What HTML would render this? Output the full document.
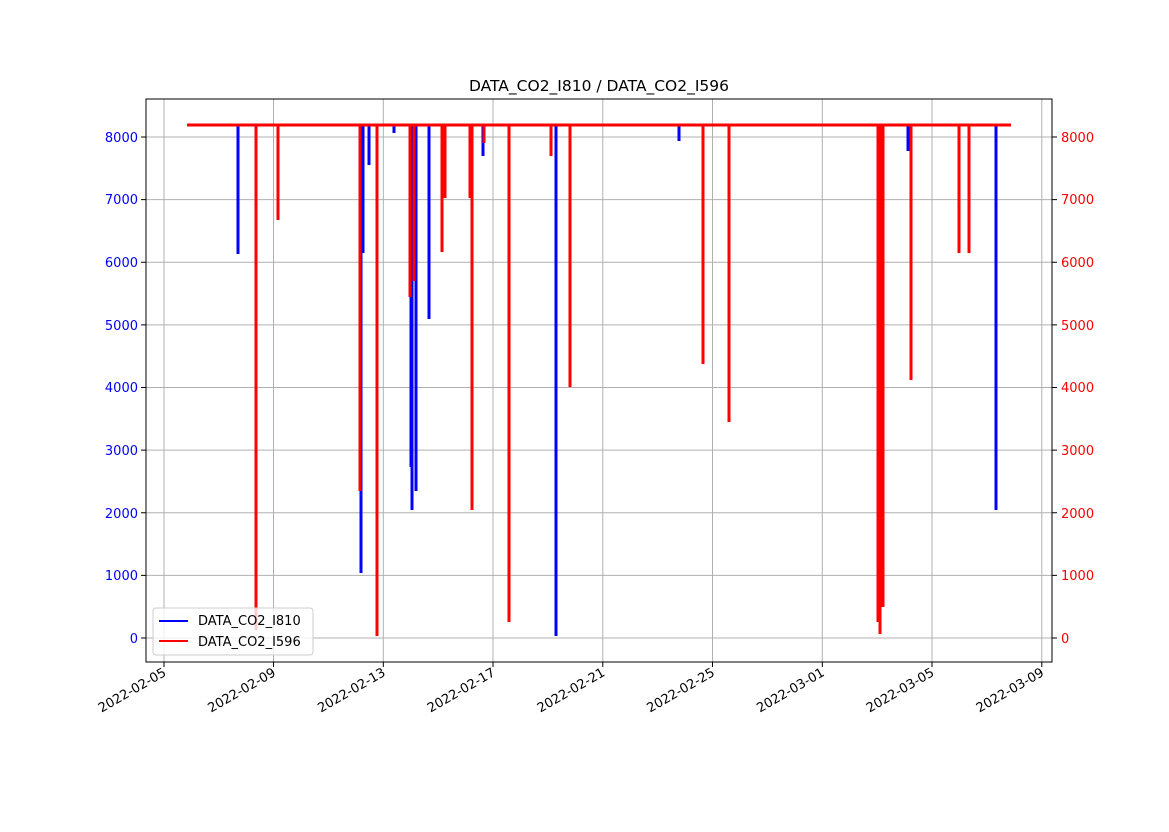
<!DOCTYPE html><html><head><style>body{margin:0;background:#fff}svg text{font-family:"DejaVu Sans","Liberation Sans",sans-serif;font-size:13px}</style></head><body>
<svg width="1169" height="827" xmlns="http://www.w3.org/2000/svg">
<rect width="1169" height="827" fill="#fff"/>
<g stroke="#b0b0b0" stroke-width="1">
<line x1="164" y1="99" x2="164" y2="662"/><line x1="273.5" y1="99" x2="273.5" y2="662"/><line x1="383.3" y1="99" x2="383.3" y2="662"/><line x1="493" y1="99" x2="493" y2="662"/><line x1="602.8" y1="99" x2="602.8" y2="662"/><line x1="712.5" y1="99" x2="712.5" y2="662"/><line x1="822.3" y1="99" x2="822.3" y2="662"/><line x1="932" y1="99" x2="932" y2="662"/><line x1="1041.8" y1="99" x2="1041.8" y2="662"/>
<line x1="146" y1="638" x2="1052" y2="638"/><line x1="146" y1="575.4" x2="1052" y2="575.4"/><line x1="146" y1="512.8" x2="1052" y2="512.8"/><line x1="146" y1="450.1" x2="1052" y2="450.1"/><line x1="146" y1="387.5" x2="1052" y2="387.5"/><line x1="146" y1="324.9" x2="1052" y2="324.9"/><line x1="146" y1="262.3" x2="1052" y2="262.3"/><line x1="146" y1="199.6" x2="1052" y2="199.6"/><line x1="146" y1="137" x2="1052" y2="137"/>
</g>
<g stroke="#00f" stroke-width="3" fill="none">
<line x1="187" y1="125" x2="1011" y2="125"/>
<path d="M238,125V254M361,125V573M363,125V253M369,125V165M394,125V133M411,125V467M412,125V510M416,125V491M429,125V319M483,125V156M556,125V636M679,125V141M908,125V151M996,125V510"/>
</g>
<g stroke="#f00" stroke-width="3" fill="none">
<line x1="187" y1="125" x2="1011" y2="125"/>
<path d="M256,125V630M278,125V220M360,125V491M377,125V636M410,125V297M414,125V281M442,125V252M445,125V198M470,125V198M472,125V510M484,125V143M509,125V622M551,125V156M570,125V387M703,125V364M729,125V422M878,125V622M879,125V541M880,125V634M883,125V607M911,125V380M959,125V253M969,125V253"/>
</g>
<rect x="146" y="99" width="906" height="563" fill="none" stroke="#000" stroke-width="1"/>
<g stroke="#000"><path d="M164,662v5M273.5,662v5M383.3,662v5M493,662v5M602.8,662v5M712.5,662v5M822.3,662v5M932,662v5M1041.8,662v5"/>
<path d="M146,638h-5M146,575.4h-5M146,512.8h-5M146,450.1h-5M146,387.5h-5M146,324.9h-5M146,262.3h-5M146,199.6h-5M146,137h-5"/>
<path d="M1052,638h5M1052,575.4h5M1052,512.8h5M1052,450.1h5M1052,387.5h5M1052,324.9h5M1052,262.3h5M1052,199.6h5M1052,137h5"/></g>
<g fill="#00f" text-anchor="end"><text x="138" y="643">0</text><text x="138" y="580">1000</text><text x="138" y="518">2000</text><text x="138" y="455">3000</text><text x="138" y="392">4000</text><text x="138" y="330">5000</text><text x="138" y="267">6000</text><text x="138" y="204">7000</text><text x="138" y="142">8000</text></g>
<g fill="#f00"><text x="1061" y="643">0</text><text x="1061" y="580">1000</text><text x="1061" y="518">2000</text><text x="1061" y="455">3000</text><text x="1061" y="392">4000</text><text x="1061" y="330">5000</text><text x="1061" y="267">6000</text><text x="1061" y="204">7000</text><text x="1061" y="142">8000</text></g>
<g text-anchor="end">
<text transform="translate(167,675) rotate(-30)">2022-02-05</text><text transform="translate(276.5,675) rotate(-30)">2022-02-09</text><text transform="translate(386.3,675) rotate(-30)">2022-02-13</text><text transform="translate(496,675) rotate(-30)">2022-02-17</text><text transform="translate(605.8,675) rotate(-30)">2022-02-21</text><text transform="translate(715.5,675) rotate(-30)">2022-02-25</text><text transform="translate(825.3,675) rotate(-30)">2022-03-01</text><text transform="translate(935,675) rotate(-30)">2022-03-05</text><text transform="translate(1044.8,675) rotate(-30)">2022-03-09</text></g>
<text x="599" y="91" text-anchor="middle" style="font-size:15.5px">DATA_CO2_I810 / DATA_CO2_I596</text>
<rect x="153" y="608" width="160" height="47" rx="3" fill="#fff" fill-opacity="0.8" stroke="#ccc"/>
<line x1="159" y1="621" x2="188" y2="621" stroke="#00f" stroke-width="2"/><text x="198" y="625">DATA_CO2_I810</text>
<line x1="159" y1="641" x2="188" y2="641" stroke="#f00" stroke-width="2"/><text x="198" y="646">DATA_CO2_I596</text>
</svg></body></html>
